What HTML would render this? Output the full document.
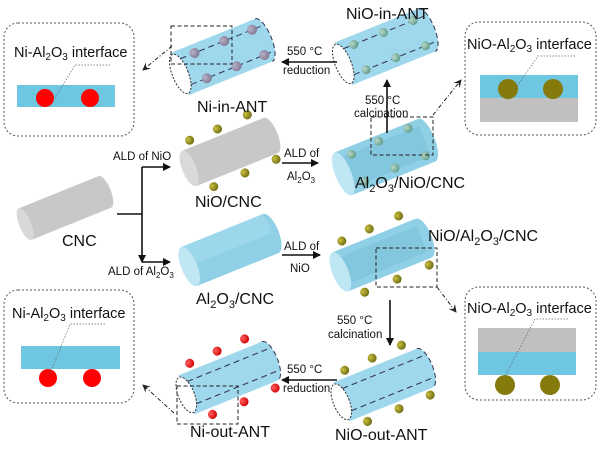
<!DOCTYPE html>
<html><head><meta charset="utf-8"><style>
body{margin:0;background:#fff}
svg{display:block}
text{font-family:"Liberation Sans",sans-serif;fill:#111}
</style></head><body>
<svg width="600" height="451" viewBox="0 0 600 451" xmlns="http://www.w3.org/2000/svg">
<defs>
<marker id="ah" markerWidth="8" markerHeight="8" refX="7" refY="4" orient="auto" markerUnits="userSpaceOnUse"><path d="M0,0 L8,4 L0,8 Z" fill="#111"/></marker>
<marker id="ah2" markerWidth="8" markerHeight="8" refX="7" refY="4" orient="auto" markerUnits="userSpaceOnUse"><path d="M0,0 L8,4 L0,8 L3,4 Z" fill="#222"/></marker>
<radialGradient id="ol" cx="0.35" cy="0.35" r="0.7"><stop offset="0" stop-color="#c8c040"/><stop offset="1" stop-color="#6e6a10"/></radialGradient>
<radialGradient id="gr" cx="0.35" cy="0.35" r="0.7"><stop offset="0" stop-color="#b8d8c8"/><stop offset="1" stop-color="#5f9a88"/></radialGradient>
<radialGradient id="gy" cx="0.35" cy="0.35" r="0.7"><stop offset="0" stop-color="#b8b0c8"/><stop offset="1" stop-color="#7f7890"/></radialGradient>
<radialGradient id="rd" cx="0.35" cy="0.35" r="0.7"><stop offset="0" stop-color="#ff6060"/><stop offset="1" stop-color="#d00000"/></radialGradient>
</defs>

<g fill="none" stroke="#555" stroke-dasharray="2,2" stroke-width="1">
<rect x="4" y="23" width="130" height="113" rx="14"/>
<rect x="465" y="22" width="131" height="113" rx="14"/>
<rect x="4" y="290" width="130" height="113" rx="14"/>
<rect x="465" y="287" width="131" height="113" rx="14"/>
</g>
<text x="14" y="57" font-size="14.5">Ni-Al<tspan font-size="10" dy="3">2</tspan><tspan dy="-3">O</tspan><tspan font-size="10" dy="3">3</tspan><tspan dy="-3"> interface</tspan></text>
<rect x="17" y="85" width="98" height="22" fill="#6ec6e0"/>
<circle cx="45" cy="98" r="9" fill="#f00"/><circle cx="90" cy="98" r="9" fill="#f00"/>
<path d="M110,65 H75 L55,98" fill="none" stroke="#666" stroke-width="0.7" stroke-dasharray="1.5,1.5"/>
<text x="467" y="49" font-size="14.5">NiO-Al<tspan font-size="10" dy="3">2</tspan><tspan dy="-3">O</tspan><tspan font-size="10" dy="3">3</tspan><tspan dy="-3"> interface</tspan></text>
<rect x="480" y="75" width="98" height="23" fill="#6ec6e0"/>
<rect x="480" y="98" width="98" height="24" fill="#c0c0c0"/>
<circle cx="508" cy="89" r="10" fill="#857a0c"/><circle cx="553" cy="89" r="10" fill="#857a0c"/>
<path d="M575,56 H538 L515,89" fill="none" stroke="#666" stroke-width="0.7" stroke-dasharray="1.5,1.5"/>
<text x="12" y="318" font-size="14.5">Ni-Al<tspan font-size="10" dy="3">2</tspan><tspan dy="-3">O</tspan><tspan font-size="10" dy="3">3</tspan><tspan dy="-3"> interface</tspan></text>
<rect x="21" y="346" width="99" height="23" fill="#6ec6e0"/>
<circle cx="48" cy="378" r="9" fill="#f00"/><circle cx="92" cy="378" r="9" fill="#f00"/>
<path d="M105,324 H70 L50,374" fill="none" stroke="#666" stroke-width="0.7" stroke-dasharray="1.5,1.5"/>
<text x="467" y="313" font-size="14.5">NiO-Al<tspan font-size="10" dy="3">2</tspan><tspan dy="-3">O</tspan><tspan font-size="10" dy="3">3</tspan><tspan dy="-3"> interface</tspan></text>
<rect x="478" y="328" width="98" height="24" fill="#c0c0c0"/>
<rect x="478" y="352" width="98" height="23" fill="#6ec6e0"/>
<circle cx="505" cy="385" r="10" fill="#857a0c"/><circle cx="550" cy="385" r="10" fill="#857a0c"/>
<path d="M568,319 H535 L505,376" fill="none" stroke="#666" stroke-width="0.7" stroke-dasharray="1.5,1.5"/>

<g transform="translate(65,208) rotate(-22)">
<path d="M-43,-17 H43 A6,17 0 0 1 43,17 H-43 Z" fill="#c8c8c8"/>
<ellipse cx="-43" cy="0" rx="6" ry="17" fill="#d8d8d8"/>
</g>
<text x="62" y="246" font-size="16">CNC</text>

<g transform="translate(230,152) rotate(-22)">
<path d="M-44,-19 H44 A7,19 0 0 1 44,19 H-44 Z" fill="#c8c8c8"/>
<ellipse cx="-44" cy="0" rx="7" ry="19" fill="#dadada"/>
<g fill="url(#ol)"><circle cx="-33" cy="-26" r="4.5"/><circle cx="-3" cy="-26" r="4.5"/><circle cx="30" cy="-28" r="4.5"/><circle cx="-28" cy="26" r="4.5"/><circle cx="6" cy="25" r="4.5"/><circle cx="40" cy="24" r="4.5"/></g>
</g>
<text x="195" y="207" font-size="16">NiO/CNC</text>

<g transform="translate(230,250) rotate(-22)">
<path d="M-44,-21 H44 A8,21 0 0 1 44,21 H-44 Z" fill="#8fd0e6"/>
<path d="M-44,-21 H44 A8,21 0 0 1 44,0 H-44 Z" fill="#a6dcee" opacity="0.6"/>
<ellipse cx="-44" cy="0" rx="8" ry="21" fill="#bfe6f3"/>
</g>
<text x="196" y="304" font-size="16">Al<tspan font-size="11" dy="4">2</tspan><tspan dy="-4">O</tspan><tspan font-size="11" dy="4">3</tspan><tspan dy="-4">/CNC</tspan></text>

<g transform="translate(385,157) rotate(-22)">
<path d="M-45,-23 H45 A8,23 0 0 1 45,23 H-45 Z" fill="#8fd0e6"/>
<path d="M-45,-16 H43 V16 H-45 Z" fill="#7cc2da" opacity="0.6"/>
<ellipse cx="-45" cy="0" rx="8" ry="23" fill="#bfe6f3"/>
<g fill="url(#gr)"><circle cx="-30" cy="-15" r="4.5"/><circle cx="0" cy="-17" r="4.5"/><circle cx="32" cy="-18" r="4.5"/><circle cx="-28" cy="15" r="4.5"/><circle cx="5" cy="14" r="4.5"/><circle cx="38" cy="14" r="4.5"/></g>
</g>
<text x="355" y="188" font-size="16">Al<tspan font-size="11" dy="4">2</tspan><tspan dy="-4">O</tspan><tspan font-size="11" dy="4">3</tspan><tspan dy="-4">/NiO/CNC</tspan></text>

<g transform="translate(382,255) rotate(-22)">
<path d="M-45,-21 H45 A8,21 0 0 1 45,21 H-45 Z" fill="#8fd0e6"/>
<path d="M-45,-14 H43 V14 H-45 Z" fill="#7cc2da" opacity="0.6"/>
<ellipse cx="-45" cy="0" rx="8" ry="21" fill="#bfe6f3"/>
<g fill="url(#ol)"><circle cx="-32" cy="-28" r="4.5"/><circle cx="-2" cy="-29" r="4.5"/><circle cx="30" cy="-30" r="4.5"/><circle cx="-30" cy="28" r="4.5"/><circle cx="5" cy="28" r="4.5"/><circle cx="40" cy="27" r="4.5"/></g>
</g>
<text x="428" y="241" font-size="16">NiO/Al<tspan font-size="11" dy="4">2</tspan><tspan dy="-4">O</tspan><tspan font-size="11" dy="4">3</tspan><tspan dy="-4">/CNC</tspan></text>

<g transform="translate(222,57) rotate(-22)">
<path d="M-45,-23 H45 A8,23 0 0 1 45,23 H-45 Z" fill="#9fd8ec"/>
<ellipse cx="-45" cy="0" rx="8" ry="21" fill="#fff" stroke="#333" stroke-dasharray="2,1.5"/>
<path d="M-39,-14 H47 M-39,14 H47" stroke="#335" stroke-dasharray="6,4" stroke-width="1"/>
<path d="M45,-23 A8,23 0 0 1 45,23" fill="none" stroke="#335" stroke-dasharray="5,3"/>
<g fill="url(#gy)"><circle cx="-24" cy="-14" r="5"/><circle cx="8" cy="-14" r="5"/><circle cx="38" cy="-14" r="5"/><circle cx="-22" cy="14" r="5"/><circle cx="10" cy="14" r="5"/><circle cx="40" cy="14" r="5"/></g>
</g>
<text x="197" y="112" font-size="16">Ni-in-ANT</text>

<g transform="translate(385,47) rotate(-22)">
<path d="M-45,-23 H45 A8,23 0 0 1 45,23 H-45 Z" fill="#9fd8ec"/>
<ellipse cx="-45" cy="0" rx="8" ry="21" fill="#fff" stroke="#333" stroke-dasharray="2,1.5"/>
<path d="M-39,-14 H47 M-39,14 H47" stroke="#335" stroke-dasharray="6,4" stroke-width="1"/>
<path d="M45,-23 A8,23 0 0 1 45,23" fill="none" stroke="#335" stroke-dasharray="5,3"/>
<g fill="url(#gr)"><circle cx="-28" cy="-14" r="4.5"/><circle cx="4" cy="-14" r="4.5"/><circle cx="36" cy="-14" r="4.5"/><circle cx="-26" cy="14" r="4.5"/><circle cx="6" cy="14" r="4.5"/><circle cx="38" cy="14" r="4.5"/></g>
</g>
<text x="346" y="19" font-size="16">NiO-in-ANT</text>

<g transform="translate(383,385) rotate(-22)">
<path d="M-45,-21 H45 A8,21 0 0 1 45,21 H-45 Z" fill="#9fd8ec"/>
<ellipse cx="-45" cy="0" rx="8" ry="19" fill="#fff" stroke="#333" stroke-dasharray="2,1.5"/>
<path d="M-39,-12 H47 M-39,12 H47" stroke="#335" stroke-dasharray="6,4" stroke-width="1"/>
<path d="M45,-21 A8,21 0 0 1 45,21" fill="none" stroke="#335" stroke-dasharray="5,3"/>
<g fill="url(#ol)"><circle cx="-30" cy="-28" r="4.5"/><circle cx="0" cy="-29" r="4.5"/><circle cx="32" cy="-30" r="4.5"/><circle cx="-28" cy="28" r="4.5"/><circle cx="6" cy="28" r="4.5"/><circle cx="40" cy="27" r="4.5"/></g>
</g>
<text x="335" y="440" font-size="16">NiO-out-ANT</text>

<g transform="translate(228,378) rotate(-22)">
<path d="M-45,-21 H45 A8,21 0 0 1 45,21 H-45 Z" fill="#9fd8ec"/>
<ellipse cx="-45" cy="0" rx="8" ry="19" fill="#fff" stroke="#333" stroke-dasharray="2,1.5"/>
<path d="M-39,-12 H47 M-39,12 H47" stroke="#335" stroke-dasharray="6,4" stroke-width="1"/>
<path d="M45,-21 A8,21 0 0 1 45,21" fill="none" stroke="#335" stroke-dasharray="5,3"/>
<g fill="url(#rd)"><circle cx="-30" cy="-28" r="4.5"/><circle cx="0" cy="-29" r="4.5"/><circle cx="30" cy="-30" r="4.5"/><circle cx="-28" cy="28" r="4.5"/><circle cx="6" cy="28" r="4.5"/><circle cx="40" cy="27" r="4.5"/></g>
</g>
<text x="190" y="437" font-size="16">Ni-out-ANT</text>

<g fill="none" stroke="#222" stroke-dasharray="4,2.5" stroke-width="1">
<rect x="171" y="26" width="61" height="38"/>
<rect x="371" y="117" width="62" height="38"/>
<rect x="376" y="248" width="61" height="39"/>
<rect x="177" y="386" width="61" height="38"/>
</g>
<g stroke="#222" stroke-dasharray="4,2,1,2" stroke-width="1" fill="none" marker-end="url(#ah2)">
<path d="M172,46 L143,70"/>
<path d="M433,115 L461,80"/>
<path d="M437,287 L456,312"/>
<path d="M174,413 L143,385"/>
</g>

<g stroke="#111" stroke-width="1.6" fill="none" marker-end="url(#ah)">
<path d="M117,214 H142 M142,167 V262"/>
<path d="M142,167 H170"/>
<path d="M142,262 H170"/>
<path d="M282,163 H318"/>
<path d="M282,255 H320"/>
<path d="M337,62 H282"/>
<path d="M337,380 H282"/>
<path d="M387,133 V80"/>
<path d="M390,300 V345"/>
</g>
<g font-size="11.5">
<text x="113" y="160">ALD of NiO</text>
<text x="108" y="275">ALD of Al<tspan font-size="8" dy="3">2</tspan><tspan dy="-3">O</tspan><tspan font-size="8" dy="3">3</tspan></text>
<text x="284" y="157">ALD of</text>
<text x="287" y="180">Al<tspan font-size="8" dy="3">2</tspan><tspan dy="-3">O</tspan><tspan font-size="8" dy="3">3</tspan></text>
<text x="284" y="250">ALD of</text>
<text x="290" y="272">NiO</text>
<text x="287" y="55">550 °C</text>
<text x="283" y="74">reduction</text>
<text x="287" y="373">550 °C</text>
<text x="283" y="392">reduction</text>
<text x="365" y="104">550 °C</text>
<text x="354" y="117">calcination</text>
<text x="337" y="324">550 °C</text>
<text x="328" y="338">calcination</text>
</g>
</svg>
</body></html>
